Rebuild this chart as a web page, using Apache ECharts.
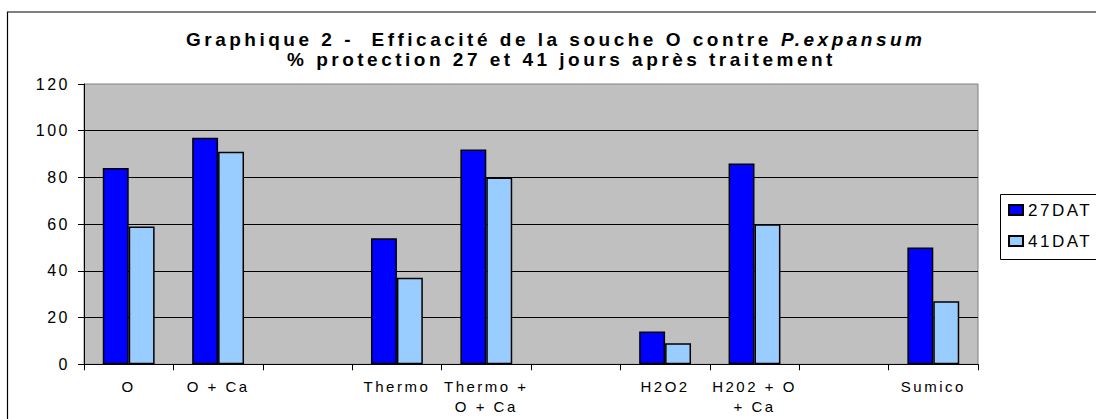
<!DOCTYPE html>
<html>
<head>
<meta charset="utf-8">
<script src="https://cdn.jsdelivr.net/npm/echarts@6/dist/echarts.min.js"></script>
<style>
html, body { margin: 0; padding: 0; background: #fff; }
#c { width: 1096px; height: 419px; }
#c svg text { letter-spacing: 2.5px; white-space: pre; }
#c svg text[style*="bold"] { letter-spacing: 3.5px; }
</style>
</head>
<body>
<div id="c"></div>
<script>
// ---- data ----
const categories = ['O', 'O + Ca', '', 'Thermo', 'Thermo +\nO + Ca', '', 'H2O2', 'H202 + O\n+ Ca', '', 'Sumico'];
const seriesNames = ['27DAT', '41DAT'];
const dat27 = [84, 97, null, 54, 92, null, 14, 86, null, 50];
const dat41 = [59, 91, null, 37, 80, null, 9, 60, null, 27];
const yMin = 0, yMax = 120, yInterval = 20;
const titleLine1 = 'Graphique 2 -  Efficacité de la souche O contre';
const titleItalic = 'P.expansum';
const titleLine2 = '% protection 27 et 41 jours après traitement';

// ---- chart ----
const FONT = 'Liberation Sans, Arial, sans-serif';
const chart = echarts.init(document.getElementById('c'), null, { renderer: 'svg' });
const titleStyle = { fontFamily: FONT, fontSize: 19, fontWeight: 'bold', color: '#000', lineHeight: 20 };

chart.setOption({
  animation: false,
  backgroundColor: '#fff',
  title: [
    { text: titleLine1, left: 186, top: 29.5, padding: 0, textStyle: titleStyle },
    { text: titleItalic, left: 781, top: 29.5, padding: 0, textStyle: Object.assign({}, titleStyle, { fontStyle: 'italic' }) },
    { text: titleLine2, left: 287, top: 49.5, padding: 0, textStyle: titleStyle }
  ],
  graphic: [
    { type: 'rect', z: -10, silent: true, shape: { x: 7.5, y: 12, width: 1200, height: 500 },
      style: { fill: 'none', stroke: '#000', lineWidth: 1.2 } },
    { type: 'rect', z: 0, silent: true, shape: { x: 1000.5, y: 194.5, width: 120, height: 65 },
      style: { fill: '#fff', stroke: '#000', lineWidth: 1 } }
  ],
  legend: {
    data: seriesNames,
    orient: 'vertical',
    left: 1008,
    top: 200,
    padding: 0,
    itemGap: 11,
    itemWidth: 14,
    itemHeight: 10,
    icon: 'rect',
    z: 5,
    textStyle: { fontFamily: FONT, fontSize: 17, lineHeight: 20, color: '#000' }
  },
  grid: { left: 84, right: 118, top: 84, bottom: 54.7, show: true, backgroundColor: '#C0C0C0', borderColor: '#808080', borderWidth: 1 },
  xAxis: {
    type: 'category',
    data: categories,
    axisLine: { show: true, lineStyle: { color: '#000', width: 1 } },
    axisTick: { show: true, interval: 0, length: 6, alignWithLabel: false, lineStyle: { color: '#000' } },
    axisLabel: { interval: 0, fontFamily: FONT, fontSize: 15, lineHeight: 20, margin: 12, color: '#000' },
    splitLine: { show: false }
  },
  yAxis: {
    type: 'value',
    min: yMin,
    max: yMax,
    interval: yInterval,
    axisLine: { show: true, lineStyle: { color: '#000', width: 1 } },
    axisTick: { show: true, length: 6, lineStyle: { color: '#000' } },
    axisLabel: { fontFamily: FONT, fontSize: 16, margin: 14, color: '#000' },
    splitLine: { show: true, showMaxLine: false, lineStyle: { color: '#000', width: 1 } }
  },
  series: [
    { name: seriesNames[0], type: 'bar', data: dat27, barGap: '0%', barCategoryGap: '42%',
      itemStyle: { color: '#0000FF', borderColor: '#000', borderWidth: 1.5 }, emphasis: { disabled: true } },
    { name: seriesNames[1], type: 'bar', data: dat41, barGap: '0%', barCategoryGap: '42%',
      itemStyle: { color: '#99CCFF', borderColor: '#000', borderWidth: 1.5 }, emphasis: { disabled: true } }
  ]
});
</script>
</body>
</html>
